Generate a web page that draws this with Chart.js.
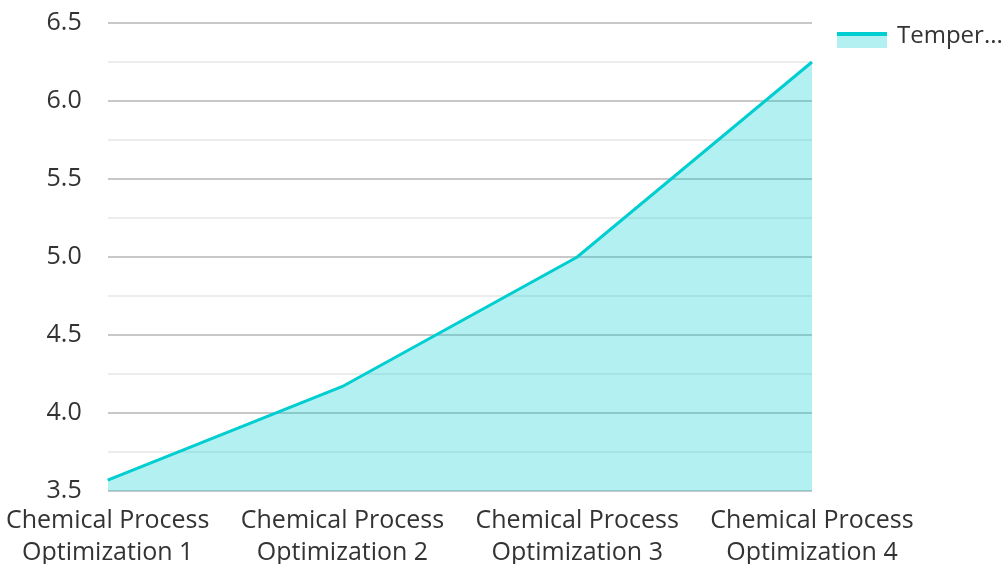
<!DOCTYPE html>
<html>
<head>
<meta charset="utf-8">
<script src="https://cdn.jsdelivr.net/npm/chart.js@4.4.1/dist/chart.umd.min.js"></script>
<style>
  html, body { margin: 0; padding: 0; background: #fff; }
  #wrap { width: 1002px; height: 564px; }
</style>
</head>
<body>
<div id="wrap"><canvas id="chart"></canvas></div>
<script>
// datos del gráfico
const categories = [
  ['Chemical Process', 'Optimization 1'],
  ['Chemical Process', 'Optimization 2'],
  ['Chemical Process', 'Optimization 3'],
  ['Chemical Process', 'Optimization 4']
];
const seriesName = 'Temper...';
const temperature = [3.57, 4.17, 5.0, 6.25];
const yMin = 3.5, yMax = 6.5, yStep = 0.25;

const lineColor = 'rgb(0,206,209)';
const fillColor = 'rgba(0,206,209,0.3)';
const fontFamily = '"Open Sans", "Noto Sans", sans-serif';

// leyenda a mano: caja con línea gruesa arriba
const sideLegend = {
  id: 'sideLegend',
  afterDraw(chart) {
    const ctx = chart.ctx;
    const x = chart.chartArea.right + 25;
    const y = 32;
    ctx.save();
    ctx.fillStyle = fillColor;
    ctx.fillRect(x, y, 50, 16);
    ctx.fillStyle = lineColor;
    ctx.fillRect(x, y, 50, 4);
    ctx.fillStyle = '#333';
    ctx.font = '24px ' + fontFamily;
    ctx.textBaseline = 'middle';
    ctx.fillText(chart.data.datasets[0].label, x + 60, y + 4);
    ctx.restore();
  }
};

Chart.defaults.font.family = fontFamily;
Chart.defaults.color = '#333';

new Chart(document.getElementById('chart').getContext('2d'), {
  type: 'line',
  data: {
    labels: categories,
    datasets: [{
      label: seriesName,
      data: temperature,
      borderColor: lineColor,
      backgroundColor: fillColor,
      borderWidth: 3,
      fill: 'start',
      pointRadius: 0,
      tension: 0
    }]
  },
  options: {
    responsive: true,
    maintainAspectRatio: false,
    animation: false,
    layout: { padding: { top: 23, right: 190, left: 10, bottom: -11 } },
    plugins: {
      legend: { display: false },
      tooltip: { enabled: false }
    },
    scales: {
      x: {
        offset: false,
        grid: { display: false },
        border: { display: false },
        ticks: { font: { size: 25, lineHeight: 1.28 }, maxRotation: 0, autoSkip: false, color: '#333', padding: 6 }
      },
      y: {
        min: yMin,
        max: yMax,
        border: { display: false },
        grid: {
          drawTicks: true,
          tickLength: 23,
          tickColor: 'rgba(0,0,0,0)',
          lineWidth: 2,
          color: c => (Math.abs(c.tick.value * 2 - Math.round(c.tick.value * 2)) < 1e-6) ? '#c8c8c8' : '#ececec'
        },
        ticks: {
          stepSize: yStep,
          padding: 3,
          font: { size: 25 },
          color: '#333',
          callback: v => (Math.abs(v * 2 - Math.round(v * 2)) < 1e-6) ? v.toFixed(1) : ''
        }
      }
    }
  },
  plugins: [sideLegend]
});
</script>
</body>
</html>
